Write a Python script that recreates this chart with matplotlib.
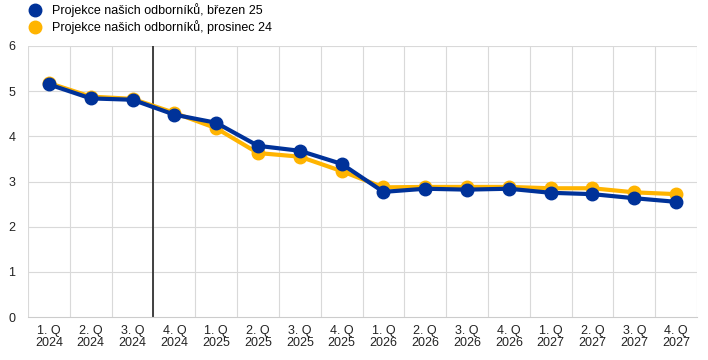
import matplotlib
matplotlib.use("Agg")
import matplotlib.pyplot as plt
import numpy as np

plt.rcParams['font.family'] = ['Liberation Sans', 'DejaVu Sans']

quarters = ["1. Q\n2024", "2. Q\n2024", "3. Q\n2024", "4. Q\n2024",
            "1. Q\n2025", "2. Q\n2025", "3. Q\n2025", "4. Q\n2025",
            "1. Q\n2026", "2. Q\n2026", "3. Q\n2026", "4. Q\n2026",
            "1. Q\n2027", "2. Q\n2027", "3. Q\n2027", "4. Q\n2027"]
march25 = [5.15, 4.84, 4.81, 4.48, 4.30, 3.79, 3.68, 3.39,
           2.77, 2.84, 2.82, 2.84, 2.75, 2.72, 2.63, 2.55]
dec24 = [5.18, 4.88, 4.83, 4.52, 4.18, 3.63, 3.55, 3.23,
         2.87, 2.88, 2.88, 2.88, 2.85, 2.85, 2.76, 2.72]
label_march = "Projekce našich odborníků, březen 25"
label_dec = "Projekce našich odborníků, prosinec 24"

blue = "#003299"
yellow = "#FFB400"

fig = plt.figure(figsize=(7.08, 3.6), dpi=100)
ax = fig.add_axes([28/708, 1-317/360, 669/708, (317-46)/360])

x = np.arange(len(quarters))
ax.plot(x, dec24, color=yellow, lw=3, marker='o', ms=9, zorder=3, label=label_dec)
ax.plot(x, march25, color=blue, lw=3, marker='o', ms=9, zorder=4, label=label_march)

ax.set_xlim(-0.5, len(quarters)-0.5)
ax.set_ylim(0, 6)
ax.set_yticks(range(0, 7))
ax.set_xticks(x)
ax.set_xticklabels(quarters, fontsize=9, linespacing=1.0)
ax.tick_params(axis='both', length=0, labelsize=9, colors='#222222')
ax.tick_params(axis='x', pad=6)
ax.tick_params(axis='y', pad=9)

for b in np.arange(-0.5, len(quarters), 1.0):
    ax.axvline(b, color='#d9d9d9', lw=0.8, zorder=0)
for yv in range(1, 7):
    ax.axhline(yv, color='#d9d9d9', lw=0.8, zorder=0)
ax.axvline(2.5, color='#333333', lw=1.3, zorder=2)

for s in ['top', 'right', 'left']:
    ax.spines[s].set_visible(False)
ax.spines['bottom'].set_color('#cccccc')
ax.spines['bottom'].set_linewidth(0.8)

handles = [plt.Line2D([], [], color=blue, marker='o', ls='none', ms=9),
           plt.Line2D([], [], color=yellow, marker='o', ls='none', ms=9)]
fig.legend(handles, [label_march, label_dec], loc='upper left',
           bbox_to_anchor=(20/708, 1.012), frameon=False, fontsize=9,
           handletextpad=0.8, labelspacing=0.25, borderaxespad=0.2,
           handlelength=1.2)

fig.savefig("out.png", dpi=100)
